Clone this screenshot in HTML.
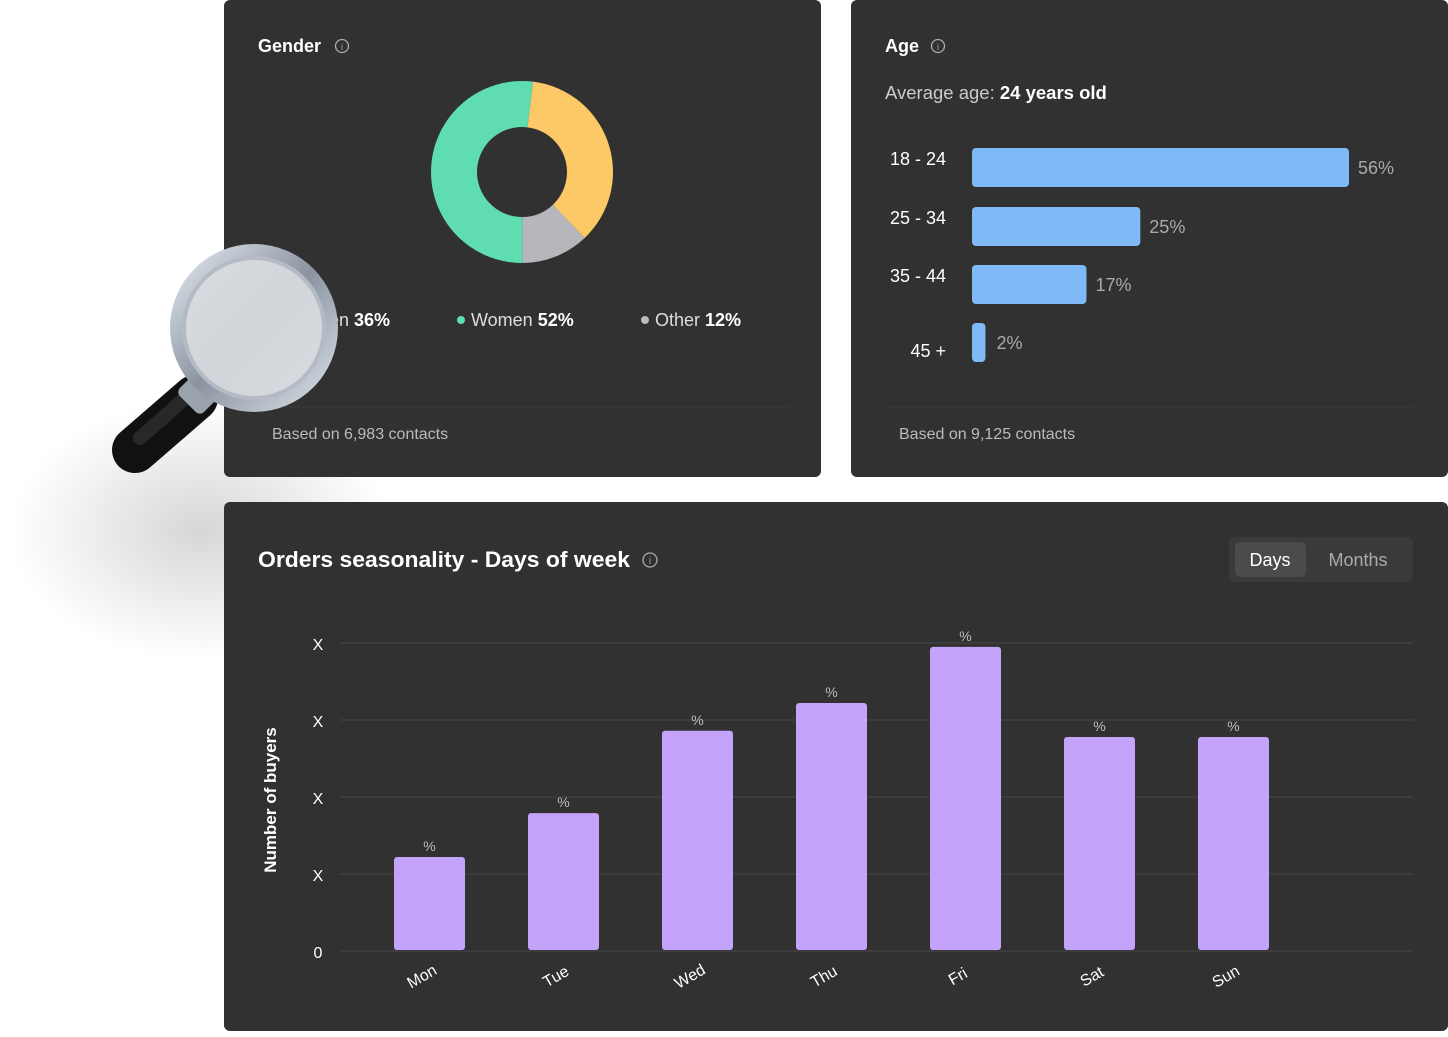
<!DOCTYPE html>
<html><head><meta charset="utf-8">
<style>
html,body{margin:0;padding:0;background:#fff;}
body{width:1448px;height:1032px;overflow:hidden;position:relative;font-family:"Liberation Sans",sans-serif;}
svg text{font-family:"Liberation Sans",sans-serif;}
</style></head>
<body>
<svg id="s" width="1448" height="1032" viewBox="0 0 1448 1032">
<defs>
<radialGradient id="shadow" cx="0.5" cy="0.5" r="0.5">
<stop offset="0" stop-color="#000" stop-opacity="0.16"/>
<stop offset="1" stop-color="#000" stop-opacity="0"/>
</radialGradient>
<linearGradient id="rim" x1="0" y1="0" x2="1" y2="1">
<stop offset="0" stop-color="#e8eef5"/><stop offset="0.5" stop-color="#8a94a0"/><stop offset="1" stop-color="#dfe6ee"/>
</linearGradient>
</defs>
<ellipse cx="200" cy="530" rx="190" ry="130" fill="url(#shadow)"/>
<rect x="224" y="0" width="597" height="477" rx="6" fill="#313131"/>
<rect x="851" y="0" width="597" height="477" rx="6" fill="#313131"/>
<rect x="224" y="502" width="1224" height="529" rx="6" fill="#313131"/>

<g>
<text x="258" y="52" fill="#fff" font-size="18" font-weight="bold">Gender</text>
<circle cx="342" cy="46" r="6.5" fill="none" stroke="#aaa" stroke-width="1.3"/>
<text x="342" y="50" fill="#aaa" font-size="9" text-anchor="middle">i</text>
</g>
<g id="donut"></g>
<g>
<circle cx="304" cy="320" r="4" fill="#f7e3a8"/>
<text x="314" y="326" fill="#ddd" font-size="18">Men <tspan fill="#fff" font-weight="bold">36%</tspan></text>
<circle cx="461" cy="320" r="4" fill="#5fdcb0"/>
<text x="471" y="326" fill="#ddd" font-size="18">Women <tspan fill="#fff" font-weight="bold">52%</tspan></text>
<circle cx="645" cy="320" r="4" fill="#bbb"/>
<text x="655" y="326" fill="#ddd" font-size="18">Other <tspan fill="#fff" font-weight="bold">12%</tspan></text>
</g>
<line x1="258" y1="407" x2="790" y2="407" stroke="#3c3c3c"/>
<text x="272" y="439" fill="#bbb" font-size="16">Based on 6,983 contacts</text>

<g>
<text x="885" y="52" fill="#fff" font-size="18" font-weight="bold">Age</text>
<circle cx="938" cy="46" r="6.5" fill="none" stroke="#aaa" stroke-width="1.3"/>
<text x="938" y="50" fill="#aaa" font-size="9" text-anchor="middle">i</text>
<text x="885" y="99" fill="#ccc" font-size="18.5">Average age: <tspan fill="#fff" font-weight="bold">24 years old</tspan></text>
</g>
<g id="agebars"></g>
<line x1="885" y1="407" x2="1413" y2="407" stroke="#3c3c3c"/>
<text x="899" y="439" fill="#bbb" font-size="16">Based on 9,125 contacts</text>

<g>
<text x="258" y="567" fill="#fff" font-size="22" font-weight="bold" textLength="372" lengthAdjust="spacingAndGlyphs">Orders seasonality - Days of week</text>
<circle cx="650" cy="560" r="7" fill="none" stroke="#aaa" stroke-width="1.3"/>
<text x="650" y="564" fill="#aaa" font-size="10" text-anchor="middle">i</text>
</g>
<g>
<rect x="1229" y="537" width="184" height="45" rx="6" fill="#3a3a3a"/>
<rect x="1235" y="542" width="71" height="35" rx="5" fill="#4b4b4b"/>
<text x="1270" y="566" fill="#fff" font-size="18" text-anchor="middle">Days</text>
<text x="1358" y="566" fill="#aaa" font-size="18" text-anchor="middle">Months</text>
</g>
<text transform="translate(276,800) rotate(-90)" fill="#fff" font-size="17" font-weight="bold" text-anchor="middle">Number of buyers</text>
<g id="orders"></g>

<g>
<line x1="195" y1="398" x2="135" y2="450" stroke="#111" stroke-width="46" stroke-linecap="round"/>
<line x1="192" y1="392" x2="140" y2="438" stroke="#333" stroke-width="14" stroke-linecap="round" opacity="0.7"/>
<rect x="185" y="370" width="34" height="40" rx="6" transform="rotate(45 202 390)" fill="#9aa3ad"/>
<circle cx="254" cy="328" r="84" fill="url(#rim)"/>
<circle cx="254" cy="328" r="70" fill="#d9dbdf" opacity="0.9"/>
<circle cx="254" cy="328" r="70" fill="none" stroke="#b4bbc4" stroke-width="4"/>
</g>
</svg>
<script>
var genderLabels=["Men","Other","Women"];
var genderValues=[36,12,52];
var genderColors=["#fdc866","#b5b7bc","#5fdcb0"];

var ageLabels=["18 - 24","25 - 34","35 - 44","45 +"];
var ageValues=[56,25,17,2];

var days=["Mon","Tue","Wed","Thu","Fri","Sat","Sun"];
var dayValues=[1.22,1.79,2.86,3.22,3.95,2.78,2.78];
var yTicks=["0","X","X","X","X"];

var NS="http://www.w3.org/2000/svg";
function mk(t,a,p){var e=document.createElementNS(NS,t);for(var k in a)e.setAttribute(k,a[k]);p.appendChild(e);return e;}

(function(){
var g=document.getElementById('donut');var cx=522,cy=172,R=91,r=45;
var total=genderValues.reduce(function(a,b){return a+b},0);
var ang=7*Math.PI/180;
function pt(rad,a){return [cx+rad*Math.sin(a),cy-rad*Math.cos(a)];}
genderValues.forEach(function(v,i){
var a2=ang+v/total*2*Math.PI;var lg=(a2-ang)>Math.PI?1:0;
var p1=pt(R,ang),p2=pt(R,a2),p3=pt(r,a2),p4=pt(r,ang);
var d="M"+p1+"A"+R+","+R+" 0 "+lg+" 1 "+p2+"L"+p3+"A"+r+","+r+" 0 "+lg+" 0 "+p4+"Z";
var e=mk('path',{d:d,fill:genderColors[i]},g);


ang=a2;});
})();

(function(){
var g=document.getElementById('agebars');var x0=972,pxPer=377/56;var ys=[148,207,265,323],h=39;
ageLabels.forEach(function(l,i){
var w=Math.max(6,ageValues[i]*pxPer);var y=ys[i];
var t=mk('text',{x:946,y:y+(i==3?34:17),fill:'#fff','font-size':18,'text-anchor':'end'},g);t.textContent=l;


var b=mk('rect',{x:x0,y:y,width:w,height:h,rx:4,fill:'#7fbaf7'},g);


var v=mk('text',{x:x0+w+(i==3?11:9),y:y+26,fill:'#aaa','font-size':18},g);v.textContent=ageValues[i]+'%';


});
})();

(function(){
var g=document.getElementById('orders');var base=951,step=77,x0=340,x1=1413;
function y(v){return base-v*step;}
yTicks.forEach(function(t,i){
var l=mk('line',{x1:x0,x2:x1,y1:y(i),y2:y(i),stroke:'#474747','stroke-width':1},g);


var tx=mk('text',{x:318,y:y(i)+7,fill:'#fff','font-size':16,'text-anchor':'middle'},g);tx.textContent=t;


});
var bw=71,first=394,gap=134;
days.forEach(function(d,i){
var bx=first+i*gap,top=y(dayValues[i]);
var b=mk('rect',{x:bx,y:top,width:bw,height:base-1-top,rx:3,fill:'#c4a3fb'},g);


var p=mk('text',{x:bx+bw/2,y:top-6,fill:'#bbb','font-size':14,'text-anchor':'middle'},g);p.textContent='%';


var cx=bx+bw/2-5,cy=981;
var t=mk('text',{x:cx,y:cy,fill:'#fff','font-size':16,'text-anchor':'middle',transform:'rotate(-30 '+cx+' '+cy+')'},g);t.textContent=d;


});
})();
</script>
</body></html>
